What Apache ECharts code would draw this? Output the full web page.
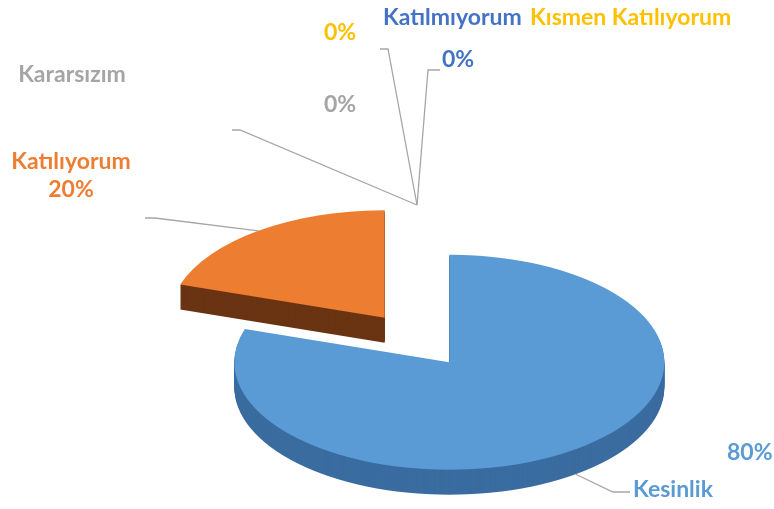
<!DOCTYPE html>
<html>
<head>
<meta charset="utf-8">
<script src="https://cdn.jsdelivr.net/npm/echarts@6/dist/echarts.min.js"></script>
<style>
  html, body { margin: 0; padding: 0; background: #fff; overflow: hidden; }
  #wrap { position: relative; width: 774px; height: 509px; overflow: hidden; }
  /* pie is drawn flat and squashed vertically to fake the 3D tilt */
  #pie { position: absolute; left: 0; top: 165px; width: 774px; height: 700px; transform: scaleY(0.5); transform-origin: 0 0; }
  #labels { position: absolute; left: 0; top: 0; width: 774px; height: 509px; pointer-events: none; }
</style>
</head>
<body>
<div id="wrap">
  <div id="pie"></div>
  <div id="labels"></div>
</div>
<script>
// data
const categories = ["Kesinlikle Katılıyorum", "Katılıyorum", "Kararsızım", "Kısmen Katılıyorum", "Katılmıyorum"];
const values = [80, 20, 0, 0, 0];
const labelNames = ["Kesinlik", "Katılıyorum", "Kararsızım", "Kısmen Katılıyorum", "Katılmıyorum"];
const topColors = ["#5b9bd5", "#ed7d31", "#a5a5a5", "#ffc000", "#4472c4"];
const sideColors = ["#3a6ca0", "#6a3413", "#6b6b6b", "#a07800", "#2b4a82"];

// geometry (local coords of the squashed pie div)
const CX = 417, CY = 350, R = 215, OFFSET = 55, SQUASH = 0.5, DEPTH = 50, TOP = 165;
const SCREEN_CY = TOP + CY * SQUASH;

function pieSeries(dy, colors) {
  return {
    type: "pie",
    center: [CX, CY + dy],
    radius: R,
    startAngle: 90,
    clockwise: true,
    selectedMode: "multiple",
    selectedOffset: OFFSET,
    silent: true,
    animation: false,
    label: { show: false },
    labelLine: { show: false },
    emphasis: { disabled: true },
    data: categories.map((name, i) => ({
      name,
      value: values[i],
      selected: true,
      itemStyle: { color: colors[i] },
      select: { itemStyle: { color: colors[i] } },
    })),
  };
}

const series = [];
for (let d = DEPTH; d > 0; d -= 2) series.push(pieSeries(d, sideColors));
series.push(pieSeries(0, topColors));

const pieChart = echarts.init(document.getElementById("pie"));
pieChart.setOption({ animation: false, series });

// labels & leader lines
const total = values.reduce((a, b) => a + b, 0);
let cum = 0;
const anchors = values.map((v) => {
  const a0 = 90 - (360 * cum) / total;
  cum += v;
  const a1 = 90 - (360 * cum) / total;
  const mid = (((a0 + a1) / 2) * Math.PI) / 180;
  const rr = R + OFFSET;
  const x = CX + rr * Math.cos(mid);
  let y = SCREEN_CY - SQUASH * rr * Math.sin(mid);
  if (Math.sin(mid) < -0.3) y += DEPTH * SQUASH;
  return [x, y];
});

// label placement: name pos, percent pos, leader elbow/end
const place = [
  { name: [633, 490, "left"], pct: [727, 453, "left"], line: [[613, 492], [630, 492]] },
  { name: [71, 162, "center"], pct: [71, 190, "center"], line: [[155, 218], [145, 218]] },
  { name: [72, 75, "center"], pct: [340, 105, "center"], line: [[240, 130], [232, 130]] },
  { name: [530, 18, "left"], pct: [340, 33, "center"], line: [[388, 49], [380, 49]] },
  { name: [383, 18, "left"], pct: [442, 60, "left"], line: [[428, 70], [440, 70]] },
];

const graphics = [];
values.forEach((v, i) => {
  const p = place[i];
  graphics.push({
    type: "polyline",
    shape: { points: [anchors[i], p.line[0], p.line[1]] },
    style: { stroke: "#a6a6a6", lineWidth: 1.3, fill: null },
  });
  const font = "bold 23px Lato";
  graphics.push({
    type: "text",
    style: { text: labelNames[i], x: p.name[0], y: p.name[1], fill: topColors[i], font, align: p.name[2], verticalAlign: "middle" },
  });
  graphics.push({
    type: "text",
    style: { text: Math.round((v / total) * 100) + "%", x: p.pct[0], y: p.pct[1], fill: topColors[i], font, align: p.pct[2], verticalAlign: "middle" },
  });
});

const labelChart = echarts.init(document.getElementById("labels"));
labelChart.setOption({ animation: false, graphic: graphics });
</script>
</body>
</html>
